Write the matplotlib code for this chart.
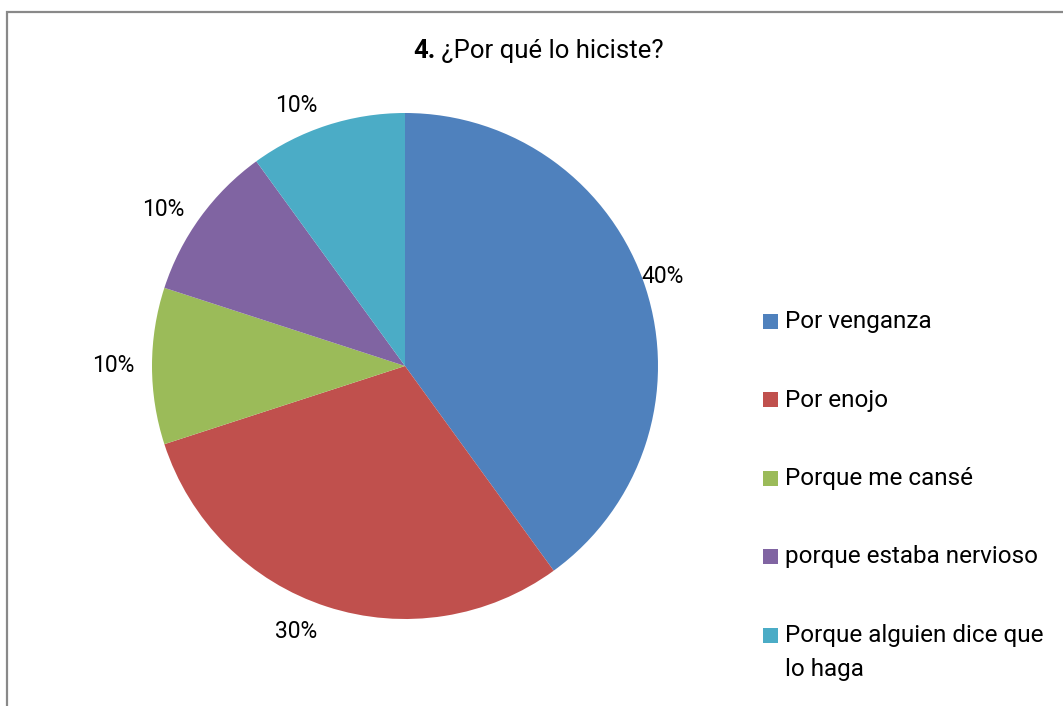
import matplotlib
matplotlib.use("Agg")
import matplotlib.pyplot as plt
from matplotlib.patches import Rectangle

categories = ["Por venganza", "Por enojo", "Porque me cansé",
              "porque estaba nervioso", "Porque alguien dice que\nlo haga"]
values = [40, 30, 10, 10, 10]
colors = ["#4F81BD", "#C0504D", "#9BBB59", "#8064A2", "#4BACC6"]
title_num = "4."
title_text = "¿Por qué lo hiciste?"

# where Excel put the data labels (data units, pie radius = 1)
label_pos = [(1.02, 0.355), (-0.43, -1.05), (-1.155, 0.0), (-0.955, 0.62), (-0.43, 1.03)]

plt.rcParams['font.family'] = ['Roboto', 'DejaVu Sans']

W, H = 1063, 706
fig = plt.figure(figsize=(W / 100, H / 100), dpi=100)

# outer frame (runs off right and bottom edge)
fig.patches.append(Rectangle((7 / W, -0.1), 1.2, (H - 12) / H + 0.1,
                             transform=fig.transFigure, fill=False,
                             edgecolor="#898989", linewidth=1.6))

cx, cy, r = 405, 366, 253
ax = fig.add_axes([(cx - r) / W, (H - cy - r) / H, 2 * r / W, 2 * r / H])
wedges, _ = ax.pie(values, colors=colors, startangle=90, counterclock=False,
                   wedgeprops=dict(linewidth=0))
ax.set_xlim(-1, 1)
ax.set_ylim(-1, 1)
ax.set_aspect("equal")
ax.axis("off")

total = sum(values)
for v, (x, y) in zip(values, label_pos):
    ax.text(x, y, f"{v / total:.0%}", ha="center", va="center", fontsize=16.5,
            color="black", clip_on=False)

# title, bold number then regular text
t1 = fig.text(413 / W, 1 - 58 / H, title_num, fontsize=18.5, fontweight="bold",
              va="baseline", ha="left")
ax.annotate(" " + title_text, xy=(1, 0), xycoords=t1, va="bottom", ha="left",
            fontsize=18.5, annotation_clip=False)

# legend drawn by hand to keep Excel's spacing
base0, step, line_gap = 328, 78.5, 34
for i, (name, c) in enumerate(zip(categories, colors)):
    yb = base0 + i * step
    fig.patches.append(Rectangle((763 / W, 1 - (yb + 0.5) / H), 15 / W, 15 / H,
                                 transform=fig.transFigure, facecolor=c,
                                 edgecolor="none"))
    for k, line in enumerate(name.split("\n")):
        fig.text(785 / W, 1 - (yb + k * line_gap) / H, line, fontsize=17.5,
                 va="baseline", ha="left")

fig.savefig("out.png", dpi=100)
